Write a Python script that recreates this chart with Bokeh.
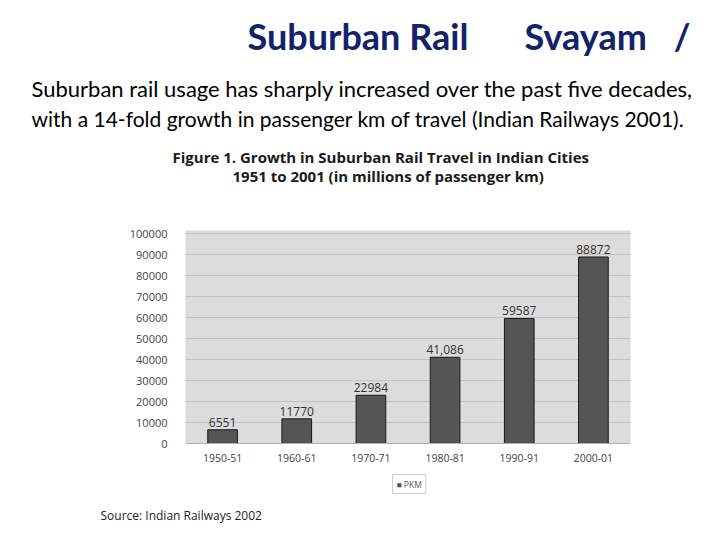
from bokeh.plotting import figure
from bokeh.models import (ColumnDataSource, LabelSet, FixedTicker, NumeralTickFormatter, Title)
from bokeh.core.properties import value
from bokeh.embed import file_html
from bokeh.resources import INLINE

periods = ["1950-51", "1960-61", "1970-71", "1980-81", "1990-91", "2000-01"]
pkm = [6551, 11770, 22984, 41086, 59587, 88872]
pkm_text = ["6551", "11770", "22984", "41,086", "59587", "88872"]
y_ticks = [0, 10000, 20000, 30000, 40000, 50000, 60000, 70000, 80000, 90000, 100000]

W, H = 704, 528
FL, FT, FW, FH = 185, 230, 445, 213
p = figure(x_range=periods, y_range=(0, 101500), width=W, height=H,
           output_backend="svg", toolbar_location=None,
           min_border_left=FL, min_border_right=W - FL - FW,
           min_border_top=FT, min_border_bottom=H - FT - FH)
p.background_fill_color = "#dcdcdc"
p.border_fill_color = "white"
p.outline_line_color = None
p.x_range.range_padding = 0.0

src = ColumnDataSource(dict(x=periods, y=pkm, t=pkm_text))
p.vbar(x="x", top="y", width=0.4, source=src, fill_color="#555555",
       line_color="#1a1a1a", line_width=1)
p.add_layout(LabelSet(x="x", y="y", text="t", source=src, y_offset=3,
                      text_align="center", text_baseline="bottom",
                      text_font_size="12px", text_color="#333333",
                      text_font=value("Open Sans")))

p.yaxis.ticker = FixedTicker(ticks=y_ticks)
p.yaxis.formatter = NumeralTickFormatter(format="0")
p.yaxis.axis_line_color = None
p.yaxis.major_tick_line_color = None
p.yaxis.minor_tick_line_color = None
p.yaxis.major_label_standoff = 12
p.yaxis.major_label_text_font_size = "11px"
p.yaxis.major_label_text_color = "#444444"
p.yaxis.major_label_text_font = "Open Sans"

p.xaxis.axis_line_color = "#b0b0b0"
p.xaxis.major_tick_line_color = None
p.xaxis.minor_tick_line_color = None
p.xaxis.major_label_standoff = 4
p.xaxis.major_label_text_font_size = "10.5px"
p.xaxis.major_label_text_color = "#444444"
p.xaxis.major_label_text_font = "Open Sans"

p.xgrid.grid_line_color = None
p.ygrid.grid_line_color = "#c2c2c2"
p.ygrid.ticker = FixedTicker(ticks=y_ticks)

def title(txt, left_x, side, standoff, **kw):
    t = Title(text=txt, align="left", offset=left_x - FL, standoff=standoff, **kw)
    p.add_layout(t, side)
    return t

# ---- above the chart (stacked from the plot area outward) ----
title(" ", FL, "above", 9.5, text_font_size="10px")  # spacer
title("Figure 1. Growth in Suburban Rail Travel in Indian Cities\n"
      "\u2003\u2003\u2003\u20031951 to 2001 (in millions of passenger km)",
      172, "above", 43, text_font="Open Sans", text_font_size="15px",
      text_font_style="bold", text_color="#1a1a1a", text_line_height=0.94)
title("with a 14-fold growth in passenger km of travel (Indian Railways 2001).",
      31, "above", -14, text_font="Lato", text_font_size="21px",
      text_font_style="normal", text_color="#000000")
title("Suburban rail usage has sharply increased over the past five decades,",
      31, "above", 17, text_font="Lato", text_font_size="22px",
      text_font_style="normal", text_color="#000000")
title("Suburban Rail\u2003\u2002\u2009\u2009\u200aSvayam\u2003/", 247, "above", 14,
      text_font="Lato", text_font_size="36px", text_font_style="bold",
      text_color="#13236a")

# ---- below the chart ----
title("\u25a0 PKM", 392, "below", 16, text_font="Open Sans", text_font_size="8.5px",
      text_font_style="normal", text_color="#555555",
      border_line_color="#cccccc", background_fill_color="white", padding=4)
title("Source:  Indian Railways 2002", 100, "below", 7, text_font="Open Sans",
      text_font_size="12px", text_font_style="normal", text_color="#222222")

open("out.html", "w").write(file_html(p, INLINE))
